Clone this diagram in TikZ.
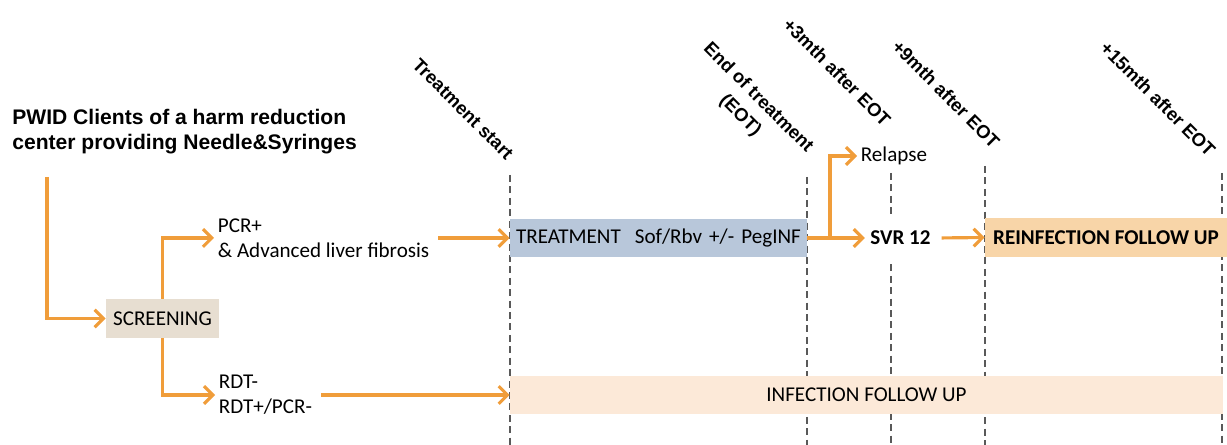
\documentclass[tikz,border=0pt]{standalone}
\usepackage{fontspec}
\setmainfont{Carlito}
\newfontfamily\arialfont{Liberation Sans}
\usepackage{tikz}
\usetikzlibrary{positioning,arrows.meta}
\definecolor{flowor}{RGB}{240,157,58}
\definecolor{screenfill}{RGB}{231,222,209}
\definecolor{treatfill}{RGB}{184,199,218}
\definecolor{reinffill}{RGB}{248,213,168}
\definecolor{infectfill}{RGB}{252,233,216}
\begin{document}
\begin{tikzpicture}[x=0.02cm,y=-0.02cm,
  flow/.style={draw=flowor,line width=1.8pt,-{Straight Barb[length=5pt,width=10pt]}},
  flowline/.style={draw=flowor,line width=1.8pt},
  timeline/.style={draw=black!65,line width=0.6pt,dash pattern=on 4pt off 2.5pt},
  marklabel/.style={font=\arialfont\bfseries\fontsize{10.5}{14.4}\selectfont,rotate=-45,inner sep=0pt},
  box/.style={inner sep=0pt,minimum height=0.77cm,font=\fontsize{12}{14.2}\selectfont},
  plain/.style={font=\fontsize{12}{14.2}\selectfont,align=left,inner sep=2pt}]
\useasboundingbox (0,0) rectangle (1227,445);
% time marks
\foreach \x/\y in {510/175,807/177,891/173,985/166,1222/173}
  \draw[timeline] (\x,\y) -- (\x,445);
\node[marklabel] (mstart) at (463,109) {Treatment start};
\node[marklabel,align=center] (meot) at (749,107) {End of treatment\\(EOT)};
\node[marklabel] (m3) at (837,72) {+3mth after EOT};
\node[marklabel] (m9) at (946,94) {+9mth after EOT};
\node[marklabel] (m15) at (1158,99) {+15mth after EOT};
% left part
\node[anchor=west,align=left,inner sep=0pt,font=\arialfont\bfseries\fontsize{12}{14.2}\selectfont]
  (clients) at (12,132) {PWID Clients of a harm reduction\\center providing Needle\&Syringes};
\coordinate (cdown) at (47,177);
\node[box,fill=screenfill,minimum width=2.26cm] (screen) at (162.5,318.5) {SCREENING};
\node[plain,anchor=west] (pcr) at (214,238) {PCR+\\\& Advanced liver fibrosis};
\node[plain,anchor=west] (rdt) at (215,395) {RDT-\\RDT+/PCR-};
% boxes
\node[box,fill=treatfill,text width=5.7cm,inner xsep=0.12cm,align=left] (treat) at (658.5,238)
  {TREATMENT\ \ Sof/Rbv +/- PegINF};
\node[box,fill=reinffill,minimum width=4.84cm,font=\bfseries\fontsize{12}{14.2}\selectfont] (reinf) at (1106,237.5)
  {REINFECTION FOLLOW UP};
\node[box,fill=infectfill,minimum width=14.26cm] (infect) at (866.5,395) {INFECTION FOLLOW UP};
\node[plain,anchor=west] (relapse) at (857,156) {Relapse};
\node[plain,fill=white,inner xsep=3pt,minimum height=0.88cm,font=\bfseries\fontsize{12}{14.2}\selectfont] (svr) at (900.5,238) {SVR 12};
\coordinate (split) at (830,238);
% arrows
\draw[flow] (cdown) |- (screen.west);
\draw[flow] (screen.north) |- (pcr.west);
\draw[flow] (screen.south) |- (rdt.west);
\draw[flow,shorten <=3pt] (pcr.east) -- (treat.west);
\draw[flow,shorten <=3pt] (rdt.east) -- (infect.west);
\draw[flow] (treat.east) -- (svr.west);
\draw[flow] (split) |- (relapse.west);
\draw[flow,shorten <=3pt] (svr.east) -- (reinf.west);
\end{tikzpicture}
\end{document}
